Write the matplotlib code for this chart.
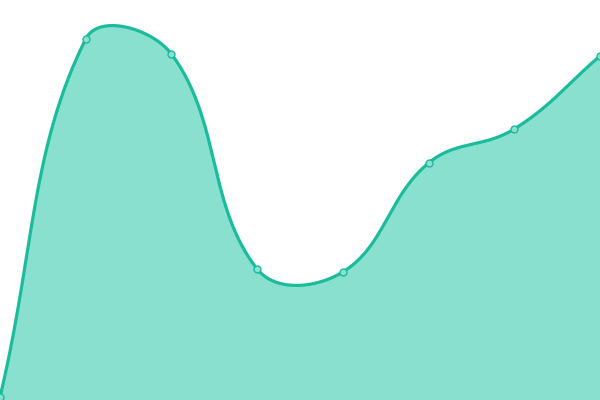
import numpy as np
import matplotlib
matplotlib.use("Agg")
import matplotlib.pyplot as plt

# data (category index, value)
categories = list(range(8))
values = [3, 361, 346, 131, 128, 237, 271, 344]

line_color = "#1abc9c"
fill_color = "#8ae0cf"
tension = 0.4


def smooth_path(px, py, t_):
    # spline through the points, control points from neighbour distances
    n = len(px)
    cps = []
    for i in range(n):
        prev = (px[max(i - 1, 0)], py[max(i - 1, 0)])
        nxt = (px[min(i + 1, n - 1)], py[min(i + 1, n - 1)])
        d01 = np.hypot(px[i] - prev[0], py[i] - prev[1])
        d12 = np.hypot(nxt[0] - px[i], nxt[1] - py[i])
        s = d01 + d12
        s01 = d01 / s if s else 0
        s12 = d12 / s if s else 0
        vx, vy = nxt[0] - prev[0], nxt[1] - prev[1]
        cin = (px[i] - t_ * s01 * vx, py[i] - t_ * s01 * vy)
        cout = (px[i] + t_ * s12 * vx, py[i] + t_ * s12 * vy)
        cps.append((cin, cout))
    xs, ys = [px[0]], [py[0]]
    t = np.linspace(0, 1, 60)[1:]
    for i in range(n - 1):
        p0 = np.array([px[i], py[i]])
        c1 = np.array(cps[i][1])
        c2 = np.array(cps[i + 1][0])
        p1 = np.array([px[i + 1], py[i + 1]])
        b = ((1 - t) ** 3)[:, None] * p0 + (3 * (1 - t) ** 2 * t)[:, None] * c1 \
            + (3 * (1 - t) * t ** 2)[:, None] * c2 + (t ** 3)[:, None] * p1
        xs.extend(b[:, 0])
        ys.extend(b[:, 1])
    return np.array(xs), np.array(ys)


fig = plt.figure(figsize=(6, 4), dpi=100)
ax = fig.add_axes([0, 0, 1, 1])
ax.set_xlim(0, 7)
ax.set_ylim(0, 400)
ax.axis("off")

disp = ax.transData.transform(np.column_stack([categories, values]))
sx, sy = smooth_path(disp[:, 0], disp[:, 1], tension)
curve = ax.transData.inverted().transform(np.column_stack([sx, sy]))

ax.fill_between(curve[:, 0], curve[:, 1], 0, color=fill_color, lw=0)
ax.plot(curve[:, 0], curve[:, 1], color=line_color, lw=2.3, solid_capstyle="round")
ax.plot(categories, values, "o", ms=5, mfc=fill_color, mec=line_color, mew=1,
        clip_on=False)

fig.savefig("out.png", dpi=100)
